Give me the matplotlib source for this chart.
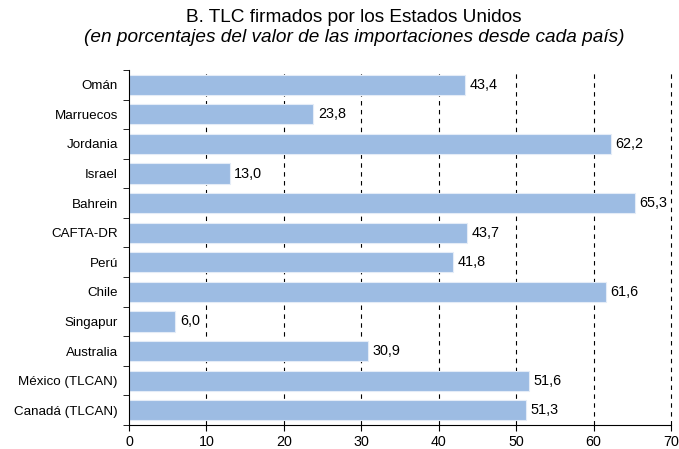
import numpy as np
import matplotlib.pyplot as plt
from matplotlib.ticker import FixedLocator

plt.rcParams['font.family'] = ['Liberation Sans', 'DejaVu Sans']

paises = ["Omán", "Marruecos", "Jordania", "Israel", "Bahrein", "CAFTA-DR",
          "Perú", "Chile", "Singapur", "Australia", "México (TLCAN)", "Canadá (TLCAN)"]
valores = [43.4, 23.8, 62.2, 13.0, 65.3, 43.7, 41.8, 61.6, 6.0, 30.9, 51.6, 51.3]

fig = plt.figure(figsize=(6.79, 4.49), dpi=100)
ax = fig.add_axes([129 / 679, 1 - 425 / 449, 542 / 679, 355 / 449])

y = np.arange(len(paises))
ax.barh(y, valores, height=0.68, color="#9dbce3", edgecolor="#e4ecf7", linewidth=0.8, zorder=2)
for yi, v in zip(y, valores):
    ax.text(v + 0.6, yi, f"{v:.1f}".replace(".", ","), va="center", ha="left", fontsize=10.4)

ax.set_xlim(0, 70)
ax.set_ylim(len(paises) - 0.5, -0.5)
ax.set_xticks(range(0, 71, 10))
ax.set_yticks(y)
ax.set_yticklabels(paises, fontsize=9.6)
ax.tick_params(axis="y", which="major", length=0, pad=8)
ax.yaxis.set_minor_locator(FixedLocator(np.arange(-0.5, len(paises), 1)))
ax.tick_params(axis="y", which="minor", length=4, direction="out")
ax.tick_params(axis="x", labelsize=10.3, length=4, direction="out")

for gx in range(10, 71, 10):
    ax.axvline(gx, color="black", linestyle=(0, (4, 4)), linewidth=0.8, zorder=1, clip_on=False)

ax.spines["top"].set_visible(False)
ax.spines["right"].set_visible(False)

fig.text(354 / 679, 1 - 18 / 449, "B. TLC firmados por los Estados Unidos", ha="center", va="center", fontsize=13.7)
fig.text(354 / 679, 1 - 38 / 449, "(en porcentajes del valor de las importaciones desde cada país)",
         ha="center", va="center", fontsize=13.7, style="italic")

fig.savefig("out.png", dpi=100)
